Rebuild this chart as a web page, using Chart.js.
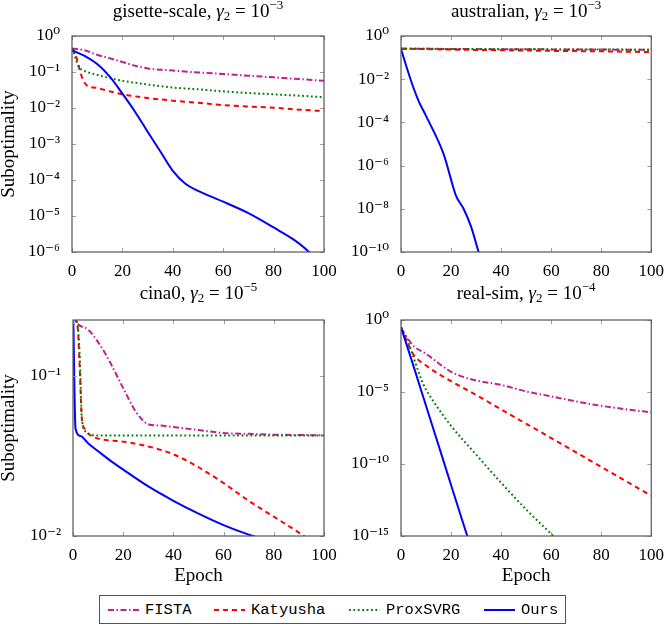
<!DOCTYPE html>
<html>
<head>
<meta charset="utf-8">
<script src="https://cdn.jsdelivr.net/npm/chart.js@4.4.1/dist/chart.umd.min.js"></script>
<style>
  body { margin: 0; background: #fff; width: 665px; height: 625px; position: relative; overflow: hidden; }
  canvas { position: absolute; }
  #legend { position: absolute; left: 99px; top: 595px; width: 467px; height: 29px; border: 1px solid #555;
            box-sizing: border-box; font: 15.5px "Liberation Mono", monospace; color: #000; }
  #legend .item { position: absolute; top: 0; height: 27px; display: flex; align-items: center; }
  #legend svg { margin-right: 6px; }
</style>
</head>
<body>
<canvas id="gisette" width="345" height="280" style="left:0;top:0"></canvas>
<canvas id="australian" width="330" height="280" style="left:335px;top:0"></canvas>
<canvas id="cina" width="345" height="310" style="left:0;top:280px"></canvas>
<canvas id="realsim" width="330" height="310" style="left:335px;top:280px"></canvas>
<div id="legend"></div>
<script>
const seriesNames = ['FISTA', 'Katyusha', 'ProxSVRG', 'Ours'];
const seriesColors = ['#c21f92', '#ff0000', '#008000', '#0000ff'];
const seriesDashes = [[6, 2.5, 1.5, 2.5], [5, 4], [1.8, 2.6], []];
const legendOffsets = [8, 114, 249, 384];

const epochTicks = [0, 20, 40, 60, 80, 100];

// gisette-scale
const gTicks = [1e-6, 1e-5, 1e-4, 1e-3, 1e-2, 1e-1, 1];
const gTickLabels = ['10⁻⁶', '10⁻⁵', '10⁻⁴', '10⁻³', '10⁻²', '10⁻¹', '10⁰'];
const gFistaX = [0, 5, 10, 15, 20, 25, 30, 40, 50, 60, 70, 80, 90, 100];
const gFistaY = [0.45, 0.4, 0.3, 0.24, 0.19, 0.15, 0.126, 0.11, 0.097, 0.088, 0.079, 0.071, 0.064, 0.057];
const gKatX = [0, 1, 2, 3, 4, 5, 6, 10, 15, 20, 30, 40, 50, 60, 70, 80, 90, 100];
const gKatY = [0.45, 0.35, 0.22, 0.12, 0.07, 0.05, 0.042, 0.036, 0.029, 0.024, 0.019, 0.016, 0.014, 0.012, 0.011, 0.0102, 0.009, 0.0082];
const gProxX = [0, 1, 2, 3, 4, 6, 10, 15, 20, 30, 40, 50, 60, 70, 80, 90, 100];
const gProxY = [0.45, 0.3, 0.18, 0.13, 0.115, 0.1, 0.083, 0.068, 0.057, 0.045, 0.037, 0.033, 0.029, 0.026, 0.024, 0.022, 0.02];
const gOursX = [0, 5, 10, 15, 20, 25, 30, 35, 40, 45, 50, 55, 60, 70, 80, 88, 94, 100];
const gOursY = [0.4, 0.28, 0.166, 0.074, 0.025, 7.9e-3, 2.2e-3, 6.3e-4, 1.8e-4, 7.9e-5, 5e-5, 3.5e-5, 2.5e-5, 1.2e-5, 4.8e-6, 2.2e-6, 1e-6, 3.2e-7];

// australian
const aTicks = [1e-10, 1e-8, 1e-6, 1e-4, 1e-2, 1];
const aTickLabels = ['10⁻¹⁰', '10⁻⁸', '10⁻⁶', '10⁻⁴', '10⁻²', '10⁰'];
const aFistaX = [0, 20, 40, 60, 80, 100];
const aFistaY = [0.26, 0.25, 0.245, 0.24, 0.235, 0.23];
const aKatX = [0, 20, 40, 60, 80, 100];
const aKatY = [0.26, 0.235, 0.22, 0.205, 0.195, 0.18];
const aProxX = [0, 20, 40, 60, 80, 100];
const aProxY = [0.26, 0.252, 0.246, 0.24, 0.236, 0.232];
const aOursX = [0, 4, 7, 10, 17, 22, 25, 28, 31, 33];
const aOursY = [0.25, 8.5e-3, 1e-3, 2e-4, 3.5e-6, 4e-8, 1e-8, 1.5e-9, 1e-10, 2e-11];

// cina0
const cTicks = [1e-2, 1e-1];
const cTickLabels = ['10⁻²', '10⁻¹'];
const cFistaX = [0, 1, 5, 10, 15, 20, 25, 30, 35, 40, 50, 60, 70, 80, 90, 100];
const cFistaY = [0.3, 0.224, 0.2, 0.163, 0.12, 0.084, 0.06, 0.05, 0.049, 0.048, 0.046, 0.044, 0.0435, 0.043, 0.0428, 0.0426];
const cKatX = [0, 1, 2, 2.8, 3.5, 5, 8, 20, 30, 40, 50, 60, 70, 80, 90, 100];
const cKatY = [0.3, 0.23, 0.19, 0.1, 0.055, 0.046, 0.0417, 0.0389, 0.0363, 0.0324, 0.0269, 0.0214, 0.0166, 0.0132, 0.0105, 0.0081];
const cProxX = [0, 1, 2, 2.8, 3.5, 5, 7, 10, 20, 40, 60, 80, 100];
const cProxY = [0.3, 0.23, 0.2, 0.12, 0.055, 0.045, 0.043, 0.0425, 0.0425, 0.0425, 0.0425, 0.0425, 0.0425];
const cOursX = [0, 1, 3, 6, 10, 15, 20, 30, 40, 50, 60, 70, 80];
const cOursY = [0.3, 0.047, 0.0422, 0.038, 0.0339, 0.0295, 0.026, 0.0204, 0.0166, 0.0138, 0.0117, 0.0102, 0.0091];

// real-sim
const rTicks = [1e-15, 1e-10, 1e-5, 1];
const rTickLabels = ['10⁻¹⁵', '10⁻¹⁰', '10⁻⁵', '10⁰'];
const rFistaX = [0, 5, 10, 15, 20, 25, 30, 40, 50, 60, 70, 80, 90, 100];
const rFistaY = [0.25, 1.6e-2, 4.5e-3, 1e-3, 2.5e-4, 1.1e-4, 6.3e-5, 3.1e-5, 1.1e-5, 5e-6, 2.2e-6, 1.1e-6, 6.3e-7, 3.9e-7];
const rKatX = [0, 5, 10, 15, 20, 30, 40, 50, 60, 70, 80, 90, 100];
const rKatY = [0.3, 4e-3, 7e-4, 1.8e-4, 5.6e-5, 6.3e-6, 6.3e-7, 6.3e-8, 6.3e-9, 6.3e-10, 6.3e-11, 6.3e-12, 6.3e-13];
const rProxX = [0, 3, 5, 9, 13, 20, 30, 40, 50, 60, 66];
const rProxY = [0.32, 2.5e-2, 2.5e-3, 3.2e-5, 2.2e-6, 4.5e-8, 4.5e-10, 5e-12, 7e-14, 1.4e-15, 1.3e-16];
const rOursX = [0, 5, 10, 15, 20, 25, 30];
const rOursY = [0.32, 6.3e-4, 1.1e-6, 2e-9, 3.5e-12, 6.3e-15, 1.3e-17];

const serif = '"Liberation Serif", "DejaVu Serif", serif';

// title with italic gamma, subscript and superscript
const richTitle = {
  id: 'richTitle',
  afterDraw(chart, args, opts) {
    const ctx = chart.ctx, a = chart.chartArea;
    const fontFor = k => (k === 'i' ? 'italic ' : '') + ((k === 'sub' || k === 'sup') ? 13 : 19) + 'px ' + serif;
    let w = 0;
    opts.parts.forEach(p => { ctx.font = fontFor(p[1]); w += ctx.measureText(p[0]).width; });
    let x = (a.left + a.right) / 2 - w / 2;
    const y = opts.baseline;
    ctx.save();
    ctx.fillStyle = '#000';
    ctx.textBaseline = 'alphabetic';
    opts.parts.forEach(p => {
      ctx.font = fontFor(p[1]);
      const dy = p[1] === 'sup' ? -8 : p[1] === 'sub' ? 3 : 0;
      ctx.fillText(p[0], x, y + dy);
      x += ctx.measureText(p[0]).width;
    });
    ctx.restore();
  }
};

// box around plot area and inward tick marks
const frame = {
  id: 'frame',
  afterDraw(chart) {
    const ctx = chart.ctx, a = chart.chartArea;
    const xs = chart.scales.x, ys = chart.scales.y;
    ctx.save();
    ctx.strokeStyle = '#a0a0a0';
    ctx.lineWidth = 1;
    ctx.beginPath();
    ys.ticks.forEach(t => {
      const p = Math.round(ys.getPixelForValue(t.value)) + 0.5;
      ctx.moveTo(a.left, p); ctx.lineTo(a.left + 4, p);
      ctx.moveTo(a.right, p); ctx.lineTo(a.right - 4, p);
    });
    xs.ticks.forEach(t => {
      const p = Math.round(xs.getPixelForValue(t.value)) + 0.5;
      ctx.moveTo(p, a.top); ctx.lineTo(p, a.top + 4);
      ctx.moveTo(p, a.bottom); ctx.lineTo(p, a.bottom - 4);
    });
    ctx.stroke();
    ctx.strokeStyle = '#555';
    ctx.lineWidth = 1.2;
    ctx.strokeRect(a.left, a.top, a.right - a.left, a.bottom - a.top);
    ctx.restore();
  }
};

function makePanel(id, o) {
  const canvas = document.getElementById(id);
  const w = canvas.width, h = canvas.height;
  new Chart(canvas, {
    type: 'line',
    data: {
      datasets: o.series.map((s, i) => ({
        label: seriesNames[i],
        data: s[0].map((x, j) => ({ x: x, y: s[1][j] })),
        borderColor: seriesColors[i],
        borderDash: seriesDashes[i],
        borderWidth: 2,
        pointRadius: 0,
        fill: false,
        order: 3 - i,
        cubicInterpolationMode: 'monotone'
      }))
    },
    options: {
      responsive: false,
      animation: false,
      events: [],
      layout: { padding: { top: o.area[1], right: w - o.area[2], left: 0, bottom: 0 } },
      plugins: {
        legend: { display: false },
        tooltip: { enabled: false },
        richTitle: { parts: o.title, baseline: o.titleBase }
      },
      scales: {
        x: {
          type: 'linear', min: 0, max: 100,
          afterBuildTicks: s => { s.ticks = epochTicks.map(v => ({ value: v })); },
          afterFit: s => { s.height = h - o.area[3]; },
          grid: { display: false },
          border: { display: false },
          ticks: { color: '#000', font: { family: serif, size: 17 }, padding: 1, maxRotation: 0 },
          title: { display: o.xTitle, text: 'Epoch', color: '#000', font: { family: serif, size: 19 }, padding: { top: 0, bottom: 3 } }
        },
        y: {
          type: 'logarithmic', min: o.yMin, max: o.yMax,
          afterBuildTicks: s => { s.ticks = o.ticks.map(v => ({ value: v })); },
          afterFit: s => { s.width = o.area[0]; },
          grid: { display: false },
          border: { display: false },
          ticks: { color: '#000', font: { family: serif, size: 17 }, padding: 4, autoSkip: false,
                   callback: (v, i) => o.tickLabels[i] },
          title: { display: o.yTitle, text: 'Suboptimality', color: '#000', font: { family: serif, size: 19 }, padding: { top: -2, bottom: 0 } }
        }
      }
    },
    plugins: [frame, richTitle]
  });
}

makePanel('gisette', {
  area: [72, 36, 324, 252], yMin: 1e-6, yMax: 1, ticks: gTicks, tickLabels: gTickLabels,
  xTitle: false, yTitle: true, titleBase: 17,
  title: [['gisette-scale, ', 'n'], ['γ', 'i'], ['2', 'sub'], [' = 10', 'n'], ['−3', 'sup']],
  series: [[gFistaX, gFistaY], [gKatX, gKatY], [gProxX, gProxY], [gOursX, gOursY]]
});
makePanel('australian', {
  area: [66, 36, 317, 252], yMin: 1e-10, yMax: 1, ticks: aTicks, tickLabels: aTickLabels,
  xTitle: false, yTitle: false, titleBase: 17,
  title: [['australian, ', 'n'], ['γ', 'i'], ['2', 'sub'], [' = 10', 'n'], ['−3', 'sup']],
  series: [[aFistaX, aFistaY], [aKatX, aKatY], [aProxX, aProxY], [aOursX, aOursY]]
});
makePanel('cina', {
  area: [73, 40, 324, 256], yMin: 1e-2, yMax: 0.224, ticks: cTicks, tickLabels: cTickLabels,
  xTitle: true, yTitle: true, titleBase: 19,
  title: [['cina0, ', 'n'], ['γ', 'i'], ['2', 'sub'], [' = 10', 'n'], ['−5', 'sup']],
  series: [[cFistaX, cFistaY], [cKatX, cKatY], [cProxX, cProxY], [cOursX, cOursY]]
});
makePanel('realsim', {
  area: [66, 40, 317, 256], yMin: 1e-15, yMax: 1, ticks: rTicks, tickLabels: rTickLabels,
  xTitle: true, yTitle: false, titleBase: 19,
  title: [['real-sim, ', 'n'], ['γ', 'i'], ['2', 'sub'], [' = 10', 'n'], ['−4', 'sup']],
  series: [[rFistaX, rFistaY], [rKatX, rKatY], [rProxX, rProxY], [rOursX, rOursY]]
});

// legend built from the same series styles
const legend = document.getElementById('legend');
seriesNames.forEach((name, i) => {
  const item = document.createElement('div');
  item.className = 'item';
  item.style.left = legendOffsets[i] + 'px';
  item.innerHTML = '<svg width="31" height="6"><line x1="0" y1="3" x2="31" y2="3" stroke="' + seriesColors[i] +
    '" stroke-width="2" stroke-dasharray="' + seriesDashes[i].join(' ') + '"/></svg><span>' + name + '</span>';
  legend.appendChild(item);
});
</script>
</body>
</html>
